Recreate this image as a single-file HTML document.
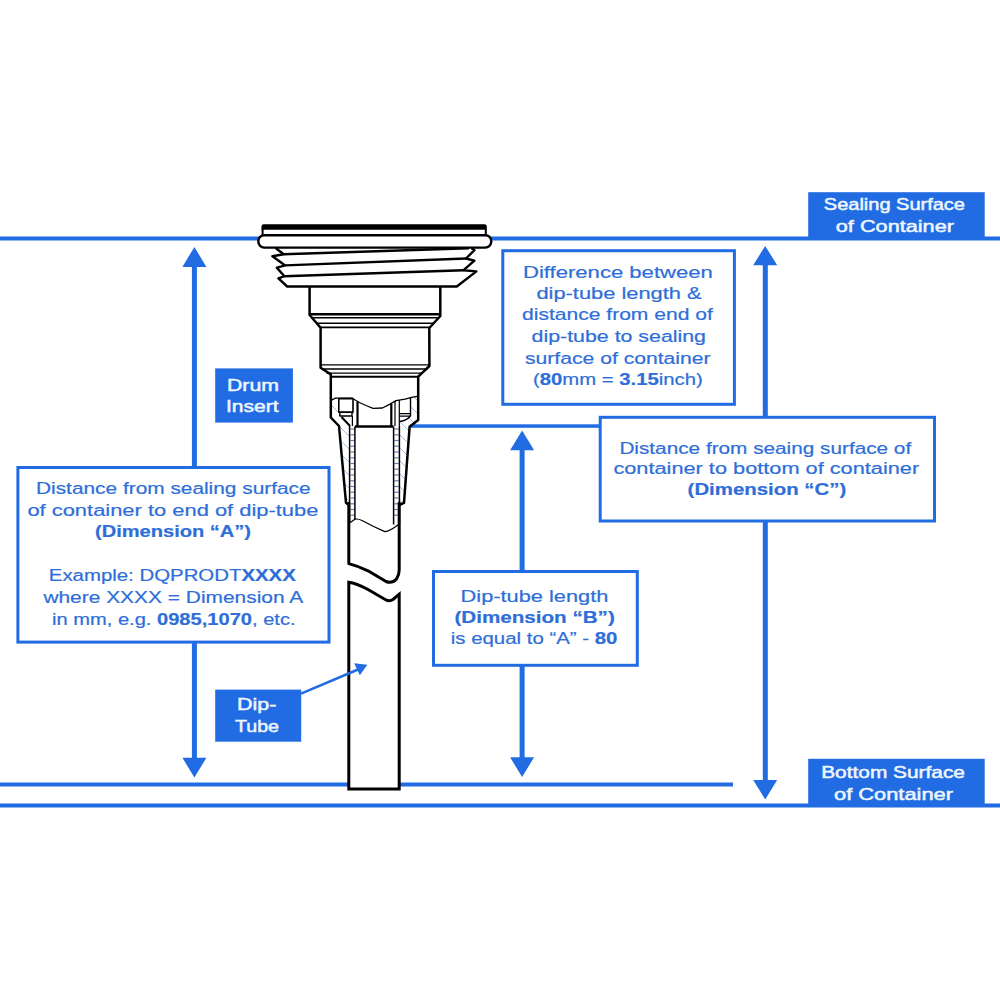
<!DOCTYPE html>
<html><head><meta charset="utf-8"><style>
html,body{margin:0;padding:0;background:#fff;width:1000px;height:1000px;overflow:hidden}
svg{display:block}
text{font-family:"Liberation Sans",sans-serif}
</style></head><body>
<svg width="1000" height="1000" viewBox="0 0 1000 1000">
<rect width="1000" height="1000" fill="#fff"/>
<rect x="0" y="236.5" width="1000" height="4" fill="#216ce3"/>
<rect x="0" y="782.5" width="733" height="4" fill="#216ce3"/>
<rect x="0" y="803.5" width="1000" height="4" fill="#216ce3"/>
<rect x="410" y="424.3" width="191" height="3.5" fill="#216ce3"/>
<rect x="191.9" y="262" width="5" height="498" fill="#216ce3"/>
<polygon points="194.4,246.9 206.4,267.0 182.4,267.0" fill="#216ce3"/>
<polygon points="194.4,777.4 206.4,757.8 182.4,757.8" fill="#216ce3"/>
<rect x="519.6" y="445" width="5" height="317" fill="#216ce3"/>
<polygon points="522.1,430.6 534.1,450.2 510.1,450.2" fill="#216ce3"/>
<polygon points="522.1,777 534.1,757.3 510.1,757.3" fill="#216ce3"/>
<rect x="762.8" y="260" width="5" height="525" fill="#216ce3"/>
<polygon points="765.2,245.9 777.2,265.3 753.2,265.3" fill="#216ce3"/>
<polygon points="765.2,799.5 777.2,780 753.2,780" fill="#216ce3"/>
<rect x="808.2" y="192.2" width="176.5" height="46.5" fill="#216ce3"/>
<rect x="808.2" y="758.8" width="176.5" height="46.5" fill="#216ce3"/>
<rect x="215.2" y="368.4" width="77.7" height="54.2" fill="#216ce3"/>
<rect x="215.2" y="689.6" width="86" height="52.1" fill="#216ce3"/>
<rect x="502.8" y="250.7" width="231.6" height="153.6" fill="#fff" stroke="#216ce3" stroke-width="3"/>
<rect x="600.2" y="417.3" width="334.3" height="103.7" fill="#fff" stroke="#216ce3" stroke-width="3"/>
<rect x="17.9" y="467.5" width="311.1" height="174.6" fill="#fff" stroke="#216ce3" stroke-width="3"/>
<rect x="433.5" y="571.5" width="203.8" height="93.8" fill="#fff" stroke="#216ce3" stroke-width="3"/>
<clipPath id="hl"><polygon points="331,399 338,398.5 341.5,417 350,426 349.5,503 346,503 339,426 331,417.5"/></clipPath>
<clipPath id="hr"><polygon points="411,397 418.2,396 418.2,420 409.6,426.8 404,503 399.5,503 399.5,421 410.5,416"/></clipPath>
<g clip-path="url(#hl)" stroke="#9fbbe6" stroke-width="1"><line x1="150" y1="380" x2="290" y2="520"/><line x1="163" y1="380" x2="303" y2="520"/><line x1="176" y1="380" x2="316" y2="520"/><line x1="189" y1="380" x2="329" y2="520"/><line x1="202" y1="380" x2="342" y2="520"/><line x1="215" y1="380" x2="355" y2="520"/><line x1="228" y1="380" x2="368" y2="520"/><line x1="241" y1="380" x2="381" y2="520"/><line x1="254" y1="380" x2="394" y2="520"/><line x1="267" y1="380" x2="407" y2="520"/><line x1="280" y1="380" x2="420" y2="520"/><line x1="293" y1="380" x2="433" y2="520"/><line x1="306" y1="380" x2="446" y2="520"/><line x1="319" y1="380" x2="459" y2="520"/><line x1="332" y1="380" x2="472" y2="520"/><line x1="345" y1="380" x2="485" y2="520"/><line x1="358" y1="380" x2="498" y2="520"/><line x1="371" y1="380" x2="511" y2="520"/><line x1="384" y1="380" x2="524" y2="520"/><line x1="397" y1="380" x2="537" y2="520"/><line x1="410" y1="380" x2="550" y2="520"/></g>
<g clip-path="url(#hr)" stroke="#9fbbe6" stroke-width="1"><line x1="150" y1="380" x2="290" y2="520"/><line x1="163" y1="380" x2="303" y2="520"/><line x1="176" y1="380" x2="316" y2="520"/><line x1="189" y1="380" x2="329" y2="520"/><line x1="202" y1="380" x2="342" y2="520"/><line x1="215" y1="380" x2="355" y2="520"/><line x1="228" y1="380" x2="368" y2="520"/><line x1="241" y1="380" x2="381" y2="520"/><line x1="254" y1="380" x2="394" y2="520"/><line x1="267" y1="380" x2="407" y2="520"/><line x1="280" y1="380" x2="420" y2="520"/><line x1="293" y1="380" x2="433" y2="520"/><line x1="306" y1="380" x2="446" y2="520"/><line x1="319" y1="380" x2="459" y2="520"/><line x1="332" y1="380" x2="472" y2="520"/><line x1="345" y1="380" x2="485" y2="520"/><line x1="358" y1="380" x2="498" y2="520"/><line x1="371" y1="380" x2="511" y2="520"/><line x1="384" y1="380" x2="524" y2="520"/><line x1="397" y1="380" x2="537" y2="520"/><line x1="410" y1="380" x2="550" y2="520"/></g>
<path d="M261.5,229.8 V226.4 Q261.5,224.2 263.7,224.2 H484.6 Q486.8,224.2 486.8,226.4 V229.8 Z" fill="#000"/>
<path d="M262.6,229 V235.5 M485.8,229 V235.5" stroke="#000" fill="none" stroke-linejoin="round" stroke-width="2"/>
<rect x="258.3" y="235.2" width="233" height="12.4" rx="6" ry="6" fill="#fff" stroke="#000" stroke-width="2.4"/>
<polyline points="275.6,248 283.6,254.2 272.4,256.3 285.2,265.4 276.8,267.6 284.4,276.2 278.4,278.3 287.2,286.5 456.8,286.5 476.4,271.4 463.6,270.2 474.4,260.7 466,258.5 474.4,250.2 471.5,248" stroke="#000" fill="none" stroke-linejoin="round" stroke-width="2.4"/>
<path d="M283.6,254.2 L468.8,248.2 M285.2,265.4 L466,258.5 M284.4,276.2 L463.6,270.2" stroke="#000" fill="none" stroke-linejoin="round" stroke-width="2.4"/>
<polyline points="309.6,286.5 309.6,315 320.6,327.8 320.6,367.7 330.8,374.4 330.8,417.5 339,426 346,502.8 348.8,505" stroke="#000" fill="none" stroke-linejoin="round" stroke-width="2.5"/>
<polyline points="440.3,286.5 440.3,316 429.3,328 429.4,366 418.2,376.6 418.2,420 409.6,426.8 404,502.8 399.2,505" stroke="#000" fill="none" stroke-linejoin="round" stroke-width="2.5"/>
<path d="M309.6,314.2 H440.3" stroke="#000" fill="none" stroke-linejoin="round" stroke-width="2.4"/>
<path d="M312.4,317.8 H437.6 M317,323.2 H433.2" stroke="#000" fill="none" stroke-linejoin="round" stroke-width="1.4"/>
<path d="M320.6,327.4 H429.3" stroke="#000" fill="none" stroke-linejoin="round" stroke-width="1.8"/>
<path d="M320.6,364.8 H429.4 M322.5,369 H427.5 M326.5,373.2 H423" stroke="#000" fill="none" stroke-linejoin="round" stroke-width="1.3"/>
<path d="M330.8,376.8 H418.2" stroke="#000" fill="none" stroke-linejoin="round" stroke-width="2"/>
<polyline points="331.5,400.2 335.4,398.2 352.3,398.2 356,400.5 359.4,402.5 366,405.5 373,408.3 382.4,408 389.5,404.4 396,400.6 405.1,399.2 411.6,397.3 417.2,396.3" stroke="#000" fill="none" stroke-linejoin="round" stroke-width="1.3"/>
<rect x="338.8" y="398.6" width="14.2" height="13.6" stroke="#000" fill="none" stroke-linejoin="round" stroke-width="1.6"/>
<rect x="339.8" y="412.2" width="12.2" height="3.8" stroke="#000" fill="none" stroke-linejoin="round" stroke-width="1.4"/>
<path d="M341.5,417 L350,426" stroke="#000" fill="none" stroke-linejoin="round" stroke-width="2"/>
<path d="M352.4,416 V426" stroke="#000" fill="none" stroke-linejoin="round" stroke-width="1.2"/>
<path d="M357.5,401.5 V426.5 M391.3,404 V426.5" stroke="#000" fill="none" stroke-linejoin="round" stroke-width="2.2"/>
<path d="M395,401 V426 M399.3,400 V426" stroke="#000" fill="none" stroke-linejoin="round" stroke-width="1.2"/>
<path d="M410.5,398 V416 M399.3,413.6 H410.5 M399.3,416.1 H410.5" stroke="#000" fill="none" stroke-linejoin="round" stroke-width="1.4"/>
<path d="M399.5,421.5 Q406,421 410.5,416" stroke="#000" fill="none" stroke-linejoin="round" stroke-width="1.6"/>
<path d="M355,426.5 H393.5" stroke="#000" fill="none" stroke-linejoin="round" stroke-width="2.6"/>
<g stroke="#6478b8" stroke-width="1.2"><line x1="350.5" y1="429.0" x2="354.2" y2="429.0"/><line x1="394.3" y1="429.0" x2="398.6" y2="429.0"/><line x1="350.5" y1="434.8" x2="354.2" y2="434.8"/><line x1="394.3" y1="434.8" x2="398.6" y2="434.8"/><line x1="350.5" y1="440.5" x2="354.2" y2="440.5"/><line x1="394.3" y1="440.5" x2="398.6" y2="440.5"/><line x1="350.5" y1="446.2" x2="354.2" y2="446.2"/><line x1="394.3" y1="446.2" x2="398.6" y2="446.2"/><line x1="350.5" y1="452.0" x2="354.2" y2="452.0"/><line x1="394.3" y1="452.0" x2="398.6" y2="452.0"/><line x1="350.5" y1="457.8" x2="354.2" y2="457.8"/><line x1="394.3" y1="457.8" x2="398.6" y2="457.8"/><line x1="350.5" y1="463.5" x2="354.2" y2="463.5"/><line x1="394.3" y1="463.5" x2="398.6" y2="463.5"/><line x1="350.5" y1="469.2" x2="354.2" y2="469.2"/><line x1="394.3" y1="469.2" x2="398.6" y2="469.2"/><line x1="350.5" y1="475.0" x2="354.2" y2="475.0"/><line x1="394.3" y1="475.0" x2="398.6" y2="475.0"/><line x1="350.5" y1="480.8" x2="354.2" y2="480.8"/><line x1="394.3" y1="480.8" x2="398.6" y2="480.8"/><line x1="350.5" y1="486.5" x2="354.2" y2="486.5"/><line x1="394.3" y1="486.5" x2="398.6" y2="486.5"/><line x1="350.5" y1="492.2" x2="354.2" y2="492.2"/><line x1="394.3" y1="492.2" x2="398.6" y2="492.2"/><line x1="350.5" y1="498.0" x2="354.2" y2="498.0"/><line x1="394.3" y1="498.0" x2="398.6" y2="498.0"/><line x1="350.5" y1="503.8" x2="354.2" y2="503.8"/><line x1="394.3" y1="503.8" x2="398.6" y2="503.8"/><line x1="350.5" y1="509.5" x2="354.2" y2="509.5"/><line x1="394.3" y1="509.5" x2="398.6" y2="509.5"/><line x1="350.5" y1="515.2" x2="354.2" y2="515.2"/><line x1="394.3" y1="515.2" x2="398.6" y2="515.2"/></g>
<path d="M349.6,426 V523 M354.9,426.5 V519.5 M393.6,426.5 V524.5 M399.4,426 V524" stroke="#000" fill="none" stroke-linejoin="round" stroke-width="1.5"/>
<path d="M349.6,523 L354.9,519.2 Q358,518.5 362,520.5 Q372,526 384.8,531.6 Q390,531 398.6,524.4" stroke="#000" fill="none" stroke-linejoin="round" stroke-width="1.2"/>
<path d="M348.8,502 V563.6 Q358,566 368,570.8 Q380,578 386,581.5 Q392,584 396.5,579 Q399.2,575 399.2,570 V502" stroke="#000" fill="none" stroke-linejoin="round" stroke-width="3"/>
<path d="M348.8,789 V582.2 Q356,583 368,589.5 Q380,596.5 386,600 Q390,601.5 393,599.5 L399.2,594.2 V789 Z" fill="#fff" stroke="#000" stroke-width="3" stroke-linejoin="miter"/>
<line x1="301" y1="693.6" x2="358" y2="669.5" stroke="#216ce3" stroke-width="2.6"/>
<polygon points="367.4,664.8 354.2,663.2 359.8,675.2" fill="#216ce3"/>
<text x="823.8" y="210.0" font-size="17" fill="#eef6ff" stroke="#eef6ff" stroke-width="0.5" textLength="141.2" lengthAdjust="spacingAndGlyphs">Sealing Surface</text>
<text x="835.8" y="231.6" font-size="17" fill="#eef6ff" stroke="#eef6ff" stroke-width="0.5" textLength="118.2" lengthAdjust="spacingAndGlyphs">of Container</text>
<text x="821.2" y="778.1" font-size="17" fill="#eef6ff" stroke="#eef6ff" stroke-width="0.5" textLength="143.8" lengthAdjust="spacingAndGlyphs">Bottom Surface</text>
<text x="834.0" y="800.0" font-size="17" fill="#eef6ff" stroke="#eef6ff" stroke-width="0.5" textLength="119.0" lengthAdjust="spacingAndGlyphs">of Container</text>
<text x="227.0" y="390.6" font-size="17" fill="#eef6ff" stroke="#eef6ff" stroke-width="0.5" textLength="52.0" lengthAdjust="spacingAndGlyphs">Drum</text>
<text x="226.0" y="411.8" font-size="17" fill="#eef6ff" stroke="#eef6ff" stroke-width="0.5" textLength="52.6" lengthAdjust="spacingAndGlyphs">Insert</text>
<text x="237.0" y="710.0" font-size="17" fill="#eef6ff" stroke="#eef6ff" stroke-width="0.5" textLength="39.4" lengthAdjust="spacingAndGlyphs">Dip-</text>
<text x="235.0" y="732.0" font-size="17" fill="#eef6ff" stroke="#eef6ff" stroke-width="0.5" textLength="44.0" lengthAdjust="spacingAndGlyphs">Tube</text>
<text x="523.0" y="278.1" font-size="16" fill="#2e6ed8" stroke="#2e6ed8" stroke-width="0.2" textLength="189.8" lengthAdjust="spacingAndGlyphs">Difference between</text>
<text x="536.4" y="299.0" font-size="16" fill="#2e6ed8" stroke="#2e6ed8" stroke-width="0.2" textLength="165.2" lengthAdjust="spacingAndGlyphs">dip-tube length &amp;</text>
<text x="522.0" y="320.0" font-size="16" fill="#2e6ed8" stroke="#2e6ed8" stroke-width="0.2" textLength="190.8" lengthAdjust="spacingAndGlyphs">distance from end of</text>
<text x="531.6" y="341.6" font-size="16" fill="#2e6ed8" stroke="#2e6ed8" stroke-width="0.2" textLength="174.4" lengthAdjust="spacingAndGlyphs">dip-tube to sealing</text>
<text x="525.0" y="363.7" font-size="16" fill="#2e6ed8" stroke="#2e6ed8" stroke-width="0.2" textLength="185.6" lengthAdjust="spacingAndGlyphs">surface of container</text>
<text x="533.0" y="385.1" font-size="16" fill="#2e6ed8" stroke="#2e6ed8" stroke-width="0.2" textLength="169.8" lengthAdjust="spacingAndGlyphs">(<tspan font-weight="bold">80</tspan>mm = <tspan font-weight="bold">3.15</tspan>inch)</text>
<text x="619.4" y="453.7" font-size="16" fill="#2e6ed8" stroke="#2e6ed8" stroke-width="0.2" textLength="291.8" lengthAdjust="spacingAndGlyphs">Distance from seaing surface of</text>
<text x="613.4" y="473.9" font-size="16" fill="#2e6ed8" stroke="#2e6ed8" stroke-width="0.2" textLength="305.8" lengthAdjust="spacingAndGlyphs">container to bottom of container</text>
<text x="687.6" y="495.0" font-size="16" fill="#2e6ed8" stroke="#2e6ed8" stroke-width="0.2" textLength="158.6" lengthAdjust="spacingAndGlyphs"><tspan font-weight="bold">(Dimension “C”)</tspan></text>
<text x="36.0" y="494.2" font-size="16" fill="#2e6ed8" stroke="#2e6ed8" stroke-width="0.2" textLength="274.6" lengthAdjust="spacingAndGlyphs">Distance from sealing surface</text>
<text x="27.4" y="516.2" font-size="16" fill="#2e6ed8" stroke="#2e6ed8" stroke-width="0.2" textLength="291.0" lengthAdjust="spacingAndGlyphs">of container to end of dip-tube</text>
<text x="95.0" y="537.0" font-size="16" fill="#2e6ed8" stroke="#2e6ed8" stroke-width="0.2" textLength="156.0" lengthAdjust="spacingAndGlyphs"><tspan font-weight="bold">(Dimension “A”)</tspan></text>
<text x="48.8" y="581.1" font-size="16" fill="#2e6ed8" stroke="#2e6ed8" stroke-width="0.2" textLength="247.0" lengthAdjust="spacingAndGlyphs">Example: DQPRODT<tspan font-weight="bold">XXXX</tspan></text>
<text x="43.4" y="602.8" font-size="16" fill="#2e6ed8" stroke="#2e6ed8" stroke-width="0.2" textLength="259.8" lengthAdjust="spacingAndGlyphs">where XXXX = Dimension A</text>
<text x="52.0" y="625.1" font-size="16" fill="#2e6ed8" stroke="#2e6ed8" stroke-width="0.2" textLength="243.6" lengthAdjust="spacingAndGlyphs">in mm, e.g. <tspan font-weight="bold">0985,1070</tspan>, etc.</text>
<text x="460.6" y="601.9" font-size="16" fill="#2e6ed8" stroke="#2e6ed8" stroke-width="0.2" textLength="147.8" lengthAdjust="spacingAndGlyphs">Dip-tube length</text>
<text x="454.4" y="622.8" font-size="16" fill="#2e6ed8" stroke="#2e6ed8" stroke-width="0.2" textLength="160.4" lengthAdjust="spacingAndGlyphs"><tspan font-weight="bold">(Dimension “B”)</tspan></text>
<text x="450.8" y="643.7" font-size="16" fill="#2e6ed8" stroke="#2e6ed8" stroke-width="0.2" textLength="166.6" lengthAdjust="spacingAndGlyphs">is equal to “A” - <tspan font-weight="bold">80</tspan></text>
</svg>
</body></html>
